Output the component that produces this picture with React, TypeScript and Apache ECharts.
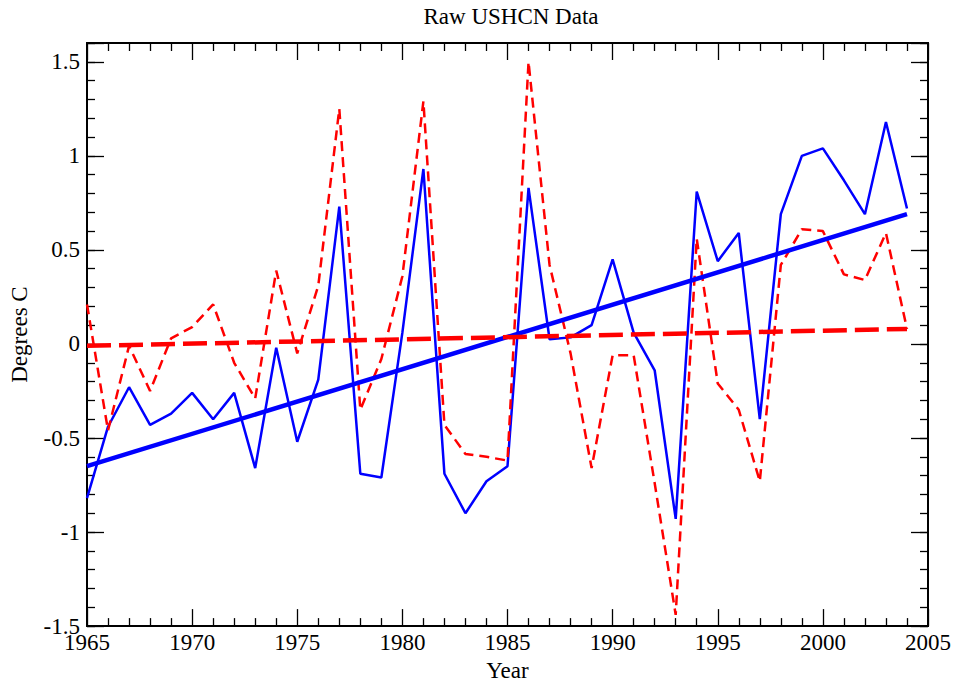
import React, { useEffect, useRef } from "react";
import * as echarts from "echarts";

const years = [
  1965, 1966, 1967, 1968, 1969, 1970, 1971, 1972, 1973, 1974,
  1975, 1976, 1977, 1978, 1979, 1980, 1981, 1982, 1983, 1984,
  1985, 1986, 1987, 1988, 1989, 1990, 1991, 1992, 1993, 1994,
  1995, 1996, 1997, 1998, 1999, 2000, 2001, 2002, 2003, 2004,
];

const blueRaw = [
  -0.82, -0.44, -0.23, -0.43, -0.37, -0.26, -0.4, -0.26, -0.66, -0.02,
  -0.52, -0.19, 0.73, -0.69, -0.71, 0.06, 0.93, -0.69, -0.9, -0.73,
  -0.65, 0.83, 0.025, 0.035, 0.1, 0.45, 0.06, -0.14, -0.93, 0.81,
  0.44, 0.59, -0.4, 0.69, 1.0, 1.04, 0.87, 0.69, 1.18, 0.72,
];

const redRaw = [
  0.21, -0.46, -0.01, -0.25, 0.03, 0.09, 0.21, -0.1, -0.29, 0.39,
  -0.05, 0.31, 1.25, -0.35, -0.08, 0.36, 1.29, -0.43, -0.585, -0.6,
  -0.62, 1.5, 0.42, -0.05, -0.66, -0.06, -0.06, -0.74, -1.44, 0.56,
  -0.21, -0.35, -0.73, 0.42, 0.61, 0.6, 0.37, 0.34, 0.59, 0.08,
];

const trendYears = [1965, 2004];
const blueTrend = [-0.65, 0.69];
const redTrend = [-0.01, 0.08];

const xTicks = { min: 1965, max: 2005, major: 5 };
const yTicks = { min: -1.5, max: 1.6, major: 0.5, minor: 0.1 };

const FONT = "Liberation Serif";

export default function App() {
  const ref = useRef<HTMLDivElement>(null);

  useEffect(() => {
    if (!ref.current) return;
    const chart = echarts.init(ref.current, undefined, { renderer: "svg" });

    const pair = (xs: number[], ys: number[]) => xs.map((x, i) => [x, ys[i]]);

    const lineStyle = { color: "#000", width: 2 };
    const tickStyle = { color: "#000", width: 1.3 };

    const yBase = {
      type: "value" as const,
      min: yTicks.min,
      max: yTicks.max,
      splitLine: { show: false },
      axisLine: { show: true, onZero: false, lineStyle },
    };

    const option: any = {
      animation: false,
      backgroundColor: "#fff",
      title: {
        text: "Raw USHCN Data",
        left: 506,
        top: 0,
        textAlign: "center",
        textStyle: { fontFamily: FONT, fontSize: 23, fontWeight: "normal", color: "#000" },
      },
      grid: { left: 85, right: 28, top: 43, bottom: 55, containLabel: false },
      xAxis: [
        {
          type: "value",
          min: xTicks.min,
          max: xTicks.max,
          interval: xTicks.major,
          position: "bottom",
          name: "Year",
          nameLocation: "middle",
          nameGap: 24,
          nameTextStyle: { fontFamily: FONT, fontSize: 23, color: "#000" },
          splitLine: { show: false },
          axisLine: { show: true, onZero: false, lineStyle },
          axisTick: { show: true, inside: true, length: 17, lineStyle: tickStyle },
          minorTick: { show: true, splitNumber: 5, length: 8, lineStyle: tickStyle },
          axisLabel: {
            fontFamily: FONT,
            fontSize: 23,
            color: "#000",
            margin: 5,
            formatter: (v: number) => String(v),
          },
        },
        {
          type: "value",
          min: xTicks.min,
          max: xTicks.max,
          interval: xTicks.major,
          position: "top",
          splitLine: { show: false },
          axisLine: { show: true, onZero: false, lineStyle },
          axisTick: { show: true, inside: true, length: 17, lineStyle: tickStyle },
          minorTick: { show: true, splitNumber: 5, length: 8, lineStyle: tickStyle },
          axisLabel: { show: false },
        },
      ],
      yAxis: [
        {
          ...yBase,
          position: "left",
          interval: yTicks.minor,
          name: "Degrees C",
          nameLocation: "middle",
          nameGap: 56,
          nameTextStyle: { fontFamily: FONT, fontSize: 23, color: "#000" },
          axisTick: { show: true, inside: true, length: 8, lineStyle: tickStyle },
          axisLabel: {
            fontFamily: FONT,
            fontSize: 23,
            color: "#000",
            margin: 7,
            formatter: (v: number) => {
              const d = v / yTicks.major;
              return Math.abs(d - Math.round(d)) < 1e-6 && v < 1.55 ? String(Math.round(d) * yTicks.major) : "";
            },
          },
        },
        {
          ...yBase,
          position: "left",
          interval: yTicks.major,
          axisTick: { show: true, inside: true, length: 17, lineStyle: tickStyle },
          axisLabel: { show: false },
        },
        {
          ...yBase,
          position: "right",
          interval: yTicks.minor,
          axisTick: { show: true, inside: true, length: 8, lineStyle: tickStyle },
          axisLabel: { show: false },
        },
        {
          ...yBase,
          position: "right",
          interval: yTicks.major,
          axisTick: { show: true, inside: true, length: 17, lineStyle: tickStyle },
          axisLabel: { show: false },
        },
      ],
      series: [
        {
          type: "line",
          data: pair(years, blueRaw),
          showSymbol: false,
          lineStyle: { color: "#0000ff", width: 2.5 },
          z: 3,
        },
        {
          type: "line",
          data: pair(years, redRaw),
          showSymbol: false,
          lineStyle: { color: "#ff0000", width: 2.5, type: [10, 6] },
          z: 4,
        },
        {
          type: "line",
          data: pair(trendYears, blueTrend),
          showSymbol: false,
          lineStyle: { color: "#0000ff", width: 4.5 },
          z: 5,
        },
        {
          type: "line",
          data: pair(trendYears, redTrend),
          showSymbol: false,
          lineStyle: { color: "#ff0000", width: 4.5, type: [24, 8] },
          z: 6,
        },
      ],
    };

    chart.setOption(option);
    return () => chart.dispose();
  }, []);

  return (
    <div
      ref={ref}
      style={{ position: "absolute", left: 0, top: 0, width: 956, height: 687 }}
    />
  );
}
